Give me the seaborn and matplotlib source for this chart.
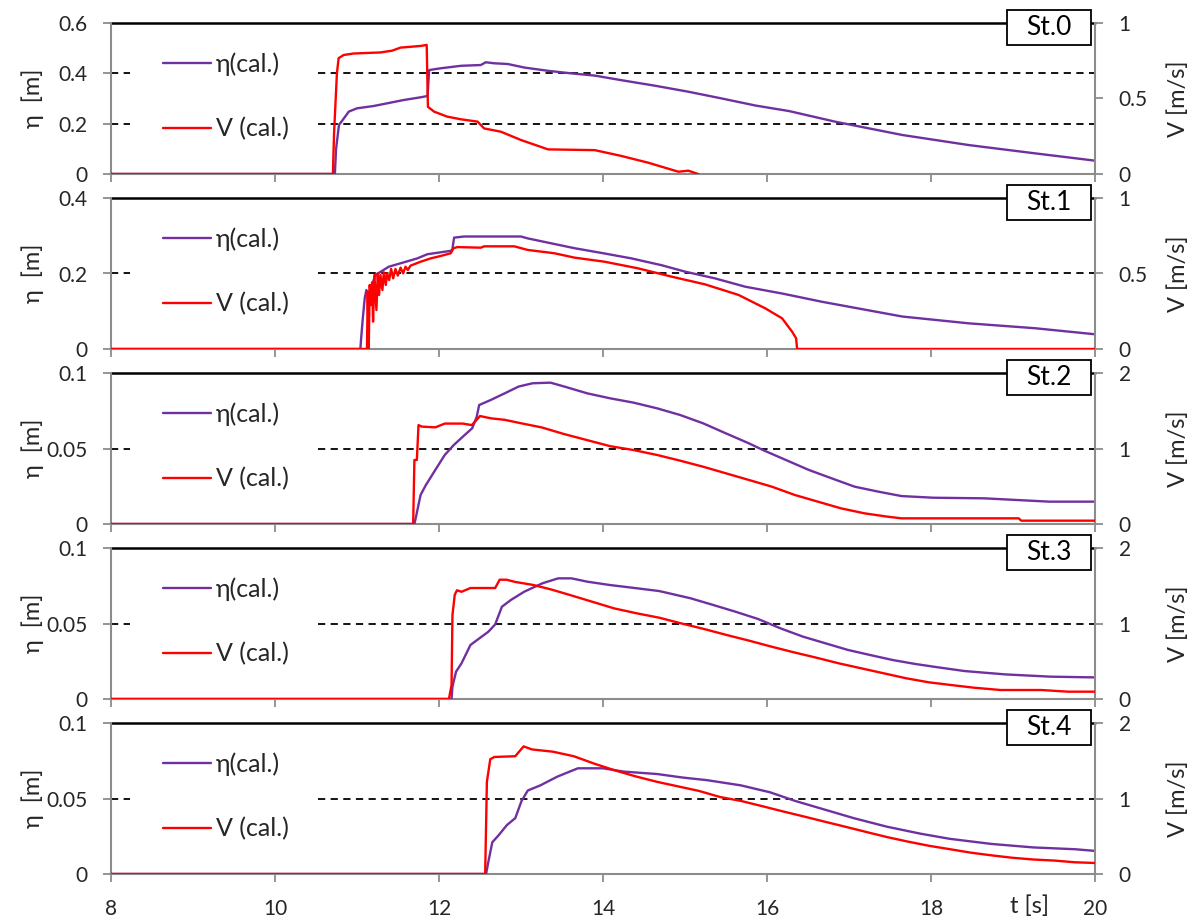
import numpy as np
import pandas as pd
import matplotlib
matplotlib.use("Agg")
import matplotlib.pyplot as plt
from matplotlib.patches import Rectangle
import seaborn as sns

# ---------------- data ----------------
stations = ["St.0", "St.1", "St.2", "St.3", "St.4"]
eta_max = [0.6, 0.4, 0.1, 0.1, 0.1]
eta_ticks = [[0, 0.2, 0.4, 0.6], [0, 0.2, 0.4], [0, 0.05, 0.1], [0, 0.05, 0.1], [0, 0.05, 0.1]]
eta_ticklabels = [["0", "0.2", "0.4", "0.6"], ["0", "0.2", "0.4"], ["0", "0.05", "0.1"],
                  ["0", "0.05", "0.1"], ["0", "0.05", "0.1"]]
v_max = [1, 1, 2, 2, 2]
v_ticks = [[0, 0.5, 1], [0, 0.5, 1], [0, 1, 2], [0, 1, 2], [0, 1, 2]]
v_ticklabels = [["0", "0.5", "1"], ["0", "0.5", "1"], ["0", "1", "2"], ["0", "1", "2"], ["0", "1", "2"]]
x_ticks = [8, 10, 12, 14, 16, 18, 20]

# St.0
t_eta0 = [8, 10.73, 10.745, 10.78, 10.84, 10.90, 11.0, 11.2, 11.37, 11.57, 11.78, 11.86, 11.88, 12.02,
          12.27, 12.51, 12.57, 12.67, 12.84, 13.04, 13.33, 13.61, 13.9, 14.22, 14.63, 15.04, 15.45,
          15.86, 16.27, 16.83, 17.65, 18.46, 19.27, 20]
eta0 = [0, 0, 0.10, 0.195, 0.221, 0.248, 0.261, 0.270, 0.281, 0.294, 0.305, 0.31, 0.413, 0.42,
        0.43, 0.433, 0.444, 0.44, 0.437, 0.423, 0.41, 0.40, 0.391, 0.373, 0.351, 0.327, 0.30,
        0.272, 0.25, 0.208, 0.155, 0.115, 0.082, 0.053]
t_v0 = [8, 10.706, 10.72, 10.755, 10.776, 10.837, 10.959, 11.286, 11.43, 11.53, 11.776, 11.85, 11.865,
        11.94, 12.1, 12.27, 12.47, 12.55, 12.755, 13.0, 13.33, 13.9, 14.22, 14.55, 14.92, 15.04, 15.16]
v0 = [0, 0, 0.267, 0.667, 0.767, 0.788, 0.798, 0.805, 0.817, 0.837, 0.848, 0.855, 0.445,
      0.413, 0.38, 0.362, 0.347, 0.302, 0.28, 0.225, 0.163, 0.158, 0.12, 0.075, 0.015, 0.022, 0]

# St.1
t_eta1 = [8, 11.041, 11.049, 11.069, 11.094, 11.114, 11.143, 11.224, 11.388, 11.531, 11.735, 11.857,
          12.143, 12.163, 12.184, 12.306, 13.0, 13.082, 13.367, 13.653, 14.02, 14.347, 14.714, 15.0,
          15.367, 15.735, 16.184, 16.673, 17.65, 18.46, 19.27, 20]
eta1 = [0, 0, 0.024, 0.077, 0.134, 0.156, 0.143, 0.196, 0.218, 0.227, 0.24, 0.251,
        0.26, 0.264, 0.295, 0.298, 0.298, 0.293, 0.28, 0.267, 0.253, 0.24, 0.222, 0.205,
        0.187, 0.165, 0.147, 0.125, 0.086, 0.068, 0.055, 0.039]
t_v1 = [8, 11.110, 11.122, 11.131, 11.143, 11.155, 11.171, 11.184, 11.196, 11.212, 11.237, 11.253,
        11.269, 11.286, 11.310, 11.327, 11.351, 11.367, 11.392, 11.416, 11.441, 11.469, 11.498, 11.531,
        11.563, 11.592, 11.620, 11.653, 11.776, 11.898, 12.020, 12.143, 12.176, 12.224, 12.510, 12.551,
        12.918, 13.082, 13.408, 13.653, 14.020, 14.429, 14.837, 15.245, 15.653, 15.980, 16.184, 16.306,
        16.355, 16.367, 20]
v1 = [0, 0, 0.004, 0.380, 0, 0.424, 0.291, 0.442, 0.181, 0.490, 0.258, 0.501,
      0.358, 0.490, 0.391, 0.508, 0.424, 0.501, 0.457, 0.530, 0.468, 0.530, 0.486, 0.539,
      0.501, 0.545, 0.523, 0.552, 0.578, 0.600, 0.616, 0.634, 0.667, 0.675, 0.671, 0.680,
      0.680, 0.656, 0.634, 0.605, 0.578, 0.534, 0.479, 0.428, 0.358, 0.269, 0.203, 0.115,
      0.071, 0, 0]

# St.2
t_eta2 = [8, 11.70, 11.72, 11.775, 11.84, 11.955, 12.07, 12.18, 12.29, 12.405, 12.46, 12.49, 12.63,
          12.8, 12.97, 13.14, 13.36, 13.53, 13.81, 14.09, 14.37, 14.66, 14.94, 15.22, 15.5, 15.78,
          15.95, 16.23, 16.51, 16.79, 17.07, 17.36, 17.64, 18.03, 18.65, 19.44, 20]
eta2 = [0, 0, 0.0049, 0.0192, 0.0258, 0.0358, 0.0457, 0.0523, 0.0578, 0.0634, 0.071, 0.0788, 0.0821,
        0.0865, 0.091, 0.0932, 0.0936, 0.091, 0.0865, 0.0832, 0.0804, 0.0766, 0.0722, 0.0667, 0.06,
        0.0534, 0.049, 0.0424, 0.0358, 0.0302, 0.0247, 0.0214, 0.0185, 0.0174, 0.017, 0.0148, 0.0148]
t_v2 = [8, 11.685, 11.70, 11.73, 11.75, 11.79, 11.955, 12.07, 12.29, 12.4, 12.46, 12.5, 12.63, 12.8,
        13.02, 13.25, 13.53, 13.81, 14.09, 14.37, 14.66, 14.94, 15.22, 15.5, 15.78, 16.06, 16.34,
        16.62, 16.9, 17.19, 17.47, 17.64, 19.07, 19.1, 20]
v2 = [0, 0, 0.848, 0.848, 1.31, 1.29, 1.28, 1.33, 1.33, 1.31, 1.38, 1.43, 1.40, 1.38,
      1.33, 1.28, 1.19, 1.11, 1.03, 0.98, 0.914, 0.839, 0.759, 0.671, 0.583, 0.494, 0.384,
      0.296, 0.208, 0.141, 0.097, 0.075, 0.075, 0.044, 0.044]

# St.3
t_eta3 = [8, 12.153, 12.164, 12.208, 12.274, 12.384, 12.493, 12.603, 12.685, 12.767, 12.877, 13.041,
          13.260, 13.452, 13.616, 13.808, 14.082, 14.356, 14.685, 15.068, 15.342, 15.616, 15.890,
          16.164, 16.438, 16.712, 16.986, 17.260, 17.534, 17.808, 18.082, 18.411, 18.904, 19.452, 20]
eta3 = [0, 0, 0.0082, 0.0181, 0.0236, 0.0358, 0.0402, 0.0446, 0.0494, 0.0611, 0.0656, 0.0711,
        0.0766, 0.0799, 0.0799, 0.0777, 0.0755, 0.0737, 0.0715, 0.0667, 0.0623, 0.0578, 0.053,
        0.0468, 0.0413, 0.0369, 0.0325, 0.0291, 0.0258, 0.0232, 0.021, 0.0185, 0.0163, 0.0148, 0.0143]
t_v3 = [8, 12.121, 12.153, 12.164, 12.192, 12.219, 12.274, 12.384, 12.685, 12.740, 12.822, 12.932,
        13.151, 13.370, 13.589, 13.863, 14.137, 14.411, 14.685, 14.959, 15.233, 15.507, 15.781,
        16.055, 16.329, 16.603, 16.877, 17.151, 17.425, 17.699, 17.973, 18.247, 18.521, 18.849,
        19.342, 19.671, 20]
v3 = [0, 0, 0.185, 1.11, 1.38, 1.44, 1.42, 1.47, 1.47, 1.58, 1.58, 1.55,
      1.51, 1.45, 1.38, 1.29, 1.2, 1.135, 1.077, 1.0, 0.927, 0.848, 0.773,
      0.693, 0.618, 0.547, 0.472, 0.406, 0.34, 0.274, 0.221, 0.185, 0.15, 0.119,
      0.119, 0.097, 0.097]

# St.4
t_eta4 = [8, 12.574, 12.599, 12.650, 12.726, 12.828, 12.930, 13.007, 13.083, 13.236, 13.440, 13.643,
          13.694, 14.0, 14.255, 14.662, 14.968, 15.274, 15.681, 16.038, 16.343, 16.700, 17.057,
          17.464, 17.872, 18.228, 18.738, 19.247, 19.757, 20]
eta4 = [0, 0, 0.0073, 0.021, 0.0256, 0.0324, 0.037, 0.0484, 0.0553, 0.0587, 0.0644, 0.0689,
        0.07, 0.07, 0.0678, 0.0662, 0.0639, 0.0621, 0.0587, 0.0541, 0.0484, 0.0427, 0.037,
        0.0313, 0.0267, 0.0233, 0.0199, 0.0176, 0.0164, 0.0153]
t_v4 = [8, 12.563, 12.584, 12.625, 12.675, 12.930, 13.032, 13.134, 13.389, 13.643, 13.898, 14.153,
        14.408, 14.662, 14.917, 15.172, 15.426, 15.681, 15.936, 16.191, 16.445, 16.700, 16.955,
        17.209, 17.464, 17.719, 17.974, 18.228, 18.483, 18.738, 18.992, 19.247, 19.502, 19.757, 20]
v4 = [0, 0, 1.22, 1.52, 1.55, 1.56, 1.69, 1.65, 1.62, 1.56, 1.46, 1.37,
      1.29, 1.22, 1.16, 1.10, 1.02, 0.968, 0.9, 0.83, 0.763, 0.694, 0.626,
      0.557, 0.489, 0.429, 0.374, 0.329, 0.283, 0.247, 0.215, 0.192, 0.178, 0.155, 0.146]

eta_series = [(t_eta0, eta0), (t_eta1, eta1), (t_eta2, eta2), (t_eta3, eta3), (t_eta4, eta4)]
v_series = [(t_v0, v0), (t_v1, v1), (t_v2, v2), (t_v3, v3), (t_v4, v4)]

# ---------------- style ----------------
sns.set_theme(style="white")
plt.rcParams["font.family"] = ["Lato", "DejaVu Sans"]
FS_TICK = 15
FS_LEG = 18
FS_LAB = 17
FS_ST = 19
PURPLE = "#7030A0"
RED = "#FF0000"
GRAY = "#8C8C8C"

W, H = 1192, 921
fig = plt.figure(figsize=(W / 100, H / 100), dpi=100)
L_px, R_px = 111, 1095
tops = [23, 198, 373, 548, 723]
PH = 151

for i in range(5):
    ax = fig.add_axes([L_px / W, 1 - (tops[i] + PH) / H, (R_px - L_px) / W, PH / H])
    ax2 = ax.twinx()

    df_e = pd.DataFrame({"t": eta_series[i][0], "eta": eta_series[i][1]})
    df_v = pd.DataFrame({"t": v_series[i][0], "V": v_series[i][1]})
    sns.lineplot(data=df_e, x="t", y="eta", ax=ax, color=PURPLE, lw=1.7, sort=False,
                 estimator=None, label="η(cal.)", legend=False, zorder=3)
    sns.lineplot(data=df_v, x="t", y="V", ax=ax2, color=RED, lw=1.7, sort=False,
                 estimator=None, label="V (cal.)", legend=False, zorder=3)

    ax.set_xlim(8, 20)
    ax.set_ylim(0, eta_max[i])
    ax2.set_ylim(0, v_max[i])
    ax.set_xticks(x_ticks)
    ax.set_yticks(eta_ticks[i])
    ax.set_yticklabels(eta_ticklabels[i])
    ax2.set_yticks(v_ticks[i])
    ax2.set_yticklabels(v_ticklabels[i])
    ax.set_xlabel("")
    ax.set_ylabel("")
    ax2.set_ylabel("")
    if i < 4:
        ax.set_xticklabels([])
    else:
        ax.set_xticklabels([str(v) for v in x_ticks])

    # gridlines (dashed, interrupted by legend region)
    for y in eta_ticks[i][1:-1]:
        ax.axhline(y, xmin=0, xmax=0.019, color="black", lw=1.3, ls=(0, (4, 3)), zorder=1)
        ax.axhline(y, xmin=0.2104, xmax=1, color="black", lw=1.3, ls=(0, (4, 3)), zorder=1)
    ax.axhline(eta_max[i], color="black", lw=1.8, zorder=1, clip_on=False)

    for a in (ax, ax2):
        a.spines["top"].set_visible(False)
        for s in ("left", "right", "bottom"):
            a.spines[s].set_color(GRAY)
            a.spines[s].set_linewidth(1.5)
    ax.spines["right"].set_visible(False)
    ax2.spines["left"].set_visible(False)
    ax2.spines["bottom"].set_visible(False)

    ax.tick_params(axis="y", direction="out", length=6, width=1.3, color=GRAY, pad=11,
                   labelsize=FS_TICK, left=True)
    ax.tick_params(axis="x", direction="out", length=6, width=1.3, color=GRAY, pad=12,
                   labelsize=FS_TICK, bottom=True)
    ax2.tick_params(axis="y", direction="out", length=6, width=1.3, color=GRAY, pad=11,
                    labelsize=FS_TICK, right=True)

    # legend
    h1, l1 = ax.get_legend_handles_labels()
    h2, l2 = ax2.get_legend_handles_labels()
    ax2.legend(h1 + h2, l1 + l2, loc="center left", bbox_to_anchor=(0.053, 0.515),
               frameon=False, fontsize=FS_LEG, handlelength=1.9, handletextpad=0.2,
               labelspacing=1.65, borderaxespad=0, borderpad=0)

    # station label box
    ax2.add_patch(Rectangle((0.9106, 0.854), 0.0854, 0.2318, transform=ax2.transAxes,
                            facecolor="white", edgecolor="black", lw=1.3, clip_on=False, zorder=10))
    ax2.text(0.953, 0.97, stations[i], transform=ax2.transAxes, ha="center", va="center",
             fontsize=FS_ST, color="black", zorder=11)

    yc = 1 - (tops[i] + PH / 2) / H
    fig.text(33 / W, yc, "η  [m]", rotation=90, ha="center", va="center", fontsize=FS_LAB)
    fig.text(1178 / W, yc, "V [m/s]", rotation=90, ha="center", va="center", fontsize=FS_LAB)

fig.text(1030 / W, 1 - 906 / H, "t [s]", ha="center", va="center", fontsize=FS_TICK + 2)

fig.savefig("out.png", dpi=100, facecolor="white")
